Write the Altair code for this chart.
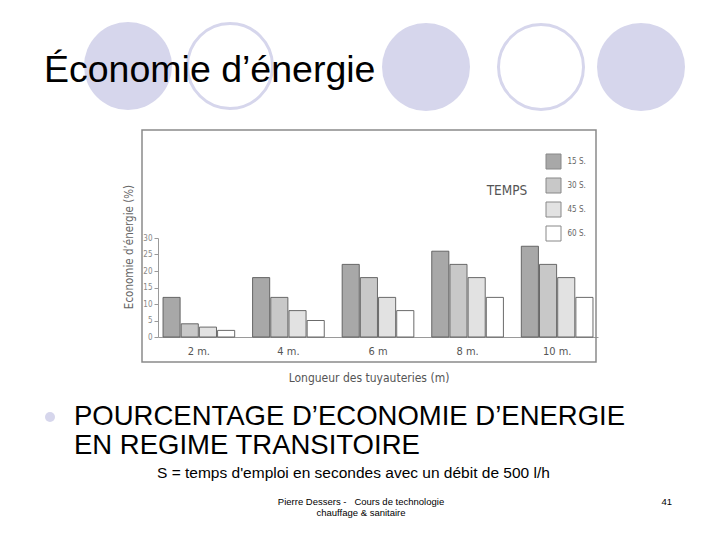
import altair as alt
import pandas as pd

# ---- data ----
longueurs = ["2 m.", "4 m.", "6 m", "8 m.", "10 m."]
temps = ["15 S.", "30 S.", "45 S.", "60 S."]
s15 = [12, 18, 22, 26, 27.5]
s30 = [4, 12, 18, 22, 22]
s45 = [3, 8, 12, 18, 18]
s60 = [2, 5, 8, 12, 12]
y_ticks = [0, 5, 10, 15, 20, 25, 30]

rows = []
for serie, vals in zip(temps, [s15, s30, s45, s60]):
    for lg, v in zip(longueurs, vals):
        rows.append({"longueur": lg, "temps": serie, "valeur": v})
df = pd.DataFrame(rows)

# ---- plot-area placement on the 720x540 slide ----
OX, OY = 158, 238          # plot origin on the slide
W, H = 440, 99             # plot size (0..30 %)

ARIAL = "Liberation Sans, Arial, sans-serif"
NARROW = "DejaVu Sans Condensed, Liberation Sans, sans-serif"
LAV = "#D6D6EC"
NB = "\u00a0"


def one():
    return alt.Data(values=[{}])


def txt(text, x, y, size, font=ARIAL, color="#000000", align="left",
        baseline="alphabetic", angle=0, lineHeight=None):
    kw = dict(text=text, fontSize=size, font=font, color=color, align=align,
              baseline=baseline)
    if angle:
        kw["angle"] = angle
    if lineHeight:
        kw["lineHeight"] = lineHeight
    return alt.Chart(one()).mark_text(**kw).encode(
        x=alt.value(x - OX), y=alt.value(y - OY))


def circle(cx, cy, filled):
    if filled:
        m = alt.Chart(one()).mark_point(shape="circle", size=88 * 88, filled=True,
                                        fill=LAV, opacity=1, strokeWidth=0)
    else:
        m = alt.Chart(one()).mark_point(shape="circle", size=85 * 85, filled=True,
                                        fill="#ffffff", stroke=LAV, strokeWidth=3,
                                        opacity=1)
    return m.encode(x=alt.value(cx - OX), y=alt.value(cy - OY))


# decorative slide circles
circles = [
    circle(128, 66, True),
    circle(230, 66, False),
    circle(426, 67, True),
    circle(541, 67, False),
    circle(641, 67, True),
]

# chart frame
frame = alt.Chart(one()).mark_rect(fill=None, stroke="#8a8a8a", strokeWidth=1.5).encode(
    x=alt.value(142 - OX), x2=alt.value(596 - OX),
    y=alt.value(130 - OY), y2=alt.value(362 - OY))

bars = alt.Chart(df).mark_bar(stroke="#5a5a5a", strokeWidth=0.9).encode(
    x=alt.X("longueur:N", sort=longueurs,
            scale=alt.Scale(paddingInner=0.2, paddingOuter=0.056),
            axis=alt.Axis(title=None, labelAngle=0, ticks=False, domain=True,
                          domainColor="#9a9a9a", labelPadding=8, labelFontSize=11,
                          labelColor="#555555", labelFont=NARROW)),
    xOffset=alt.XOffset("temps:N", sort=temps, scale=alt.Scale(paddingInner=0.06)),
    y=alt.Y("valeur:Q", scale=alt.Scale(domain=[0, 30]),
            axis=alt.Axis(values=y_ticks, title=None, grid=False, tickSize=4,
                          labelFontSize=8, labelColor="#888888", labelFont=NARROW,
                          domainColor="#9a9a9a", tickColor="#9a9a9a", labelPadding=2)),
    fill=alt.Fill("temps:N", sort=temps,
                  scale=alt.Scale(domain=temps,
                                  range=["#a8a8a8", "#c8c8c8", "#e2e2e2", "#ffffff"]),
                  legend=alt.Legend(orient="none", legendX=553 - 7.5 - OX,
                                    legendY=161 - 7.5 - OY, title=None,
                                    symbolType="square", symbolSize=225,
                                    symbolStrokeColor="#888888", symbolStrokeWidth=1,
                                    labelFontSize=8, labelColor="#666666",
                                    labelFont=NARROW, rowPadding=4, labelOffset=6)),
)

texts = [
    txt("Économie d’énergie", 44, 82, 37.5),
    txt("TEMPS", 507, 191, 13.5, font=NARROW, color="#555555", align="center",
        baseline="middle"),
    txt("Longueur des tuyauteries (m)", 369, 378, 12, font=NARROW, color="#555555",
        align="center", baseline="middle"),
    txt("Economie d’énergie (%)", 130, 247, 11.5, font=NARROW, color="#666666",
        align="center", baseline="middle", angle=270),
    txt("POURCENTAGE D’ECONOMIE D’ENERGIE", 74, 425, 27.5),
    txt("EN REGIME TRANSITOIRE", 74, 454, 27.5),
    txt("S = temps d'emploi en secondes avec un débit de 500 l/h", 157, 478, 15.5),
    txt("Pierre Dessers -" + NB * 3 + "Cours de technologie", 361, 505, 9.5,
        align="center"),
    txt("chauffage & sanitaire", 361, 516, 9.5, align="center"),
    txt("41", 672, 505, 9.5, align="right"),
]

bullet = alt.Chart(one()).mark_point(shape="circle", size=100, filled=True, fill=LAV,
                                     opacity=1, strokeWidth=0).encode(
    x=alt.value(50 - OX), y=alt.value(417 - OY))

chart = alt.layer(*circles, frame, bars, bullet, *texts).properties(
    width=W, height=H,
    padding={"left": OX, "top": OY, "right": 720 - OX - W, "bottom": 540 - OY - H},
    autosize=alt.AutoSizeParams(type="none"),
    background="#ffffff",
).configure_view(stroke=None)

chart.save("out.html", embed_options={"renderer": "svg", "actions": False})
